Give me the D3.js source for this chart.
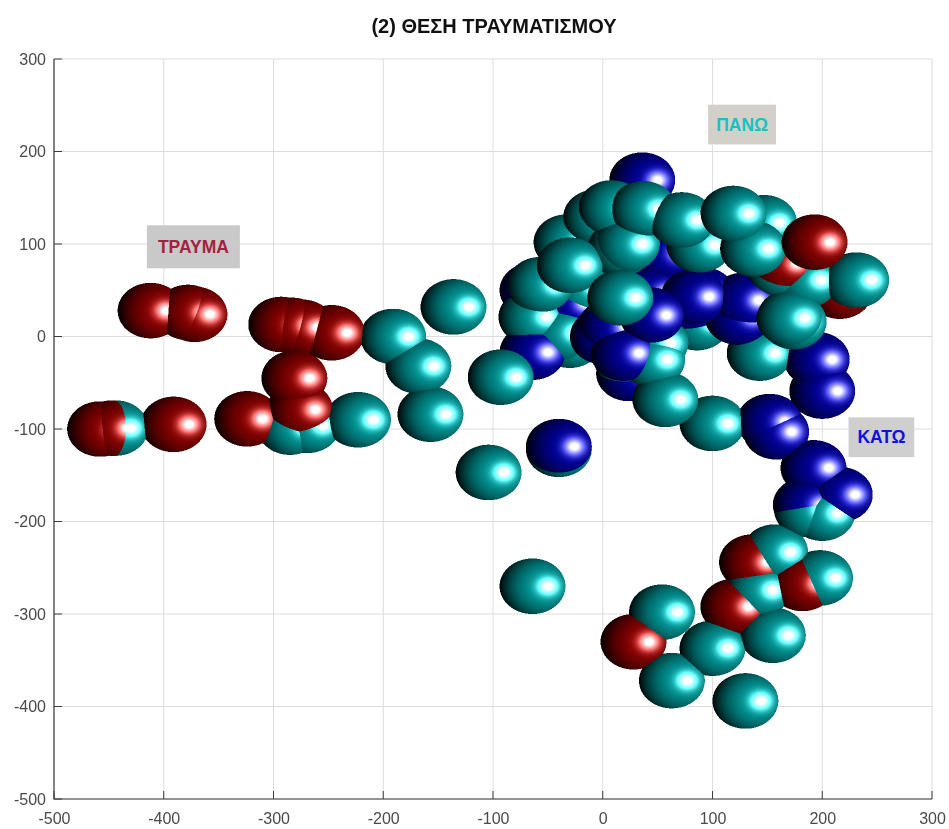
<!DOCTYPE html>
<html>
<head>
<meta charset="utf-8">
<script src="https://cdn.jsdelivr.net/npm/d3@7"></script>
<style>
  html, body { margin: 0; padding: 0; background: #fff; }
  #chart { position: relative; width: 949px; height: 829px; filter: blur(0.6px); }
  #chart svg, #chart canvas { position: absolute; left: 0; top: 0; }
  text { font-family: "Liberation Sans", Arial, sans-serif; }
</style>
</head>
<body>
<div id="chart"></div>
<script>
const width = 949, height = 829;
const xTicks = [-500, -400, -300, -200, -100, 0, 100, 200, 300];
const yTicks = [-500, -400, -300, -200, -100, 0, 100, 200, 300];
const chartTitle = "(2) ΘΕΣΗ ΤΡΑΥΜΑΤΙΣΜΟΥ";
const labelTexts = ["ΤΡΑΥΜΑ", "ΠΑΝΩ", "ΚΑΤΩ"];
const labelX = [-373, 127, 254];
const labelY = [97, 229, -109];

const radius = 30;

// injuries, [x, y, z], z only sets who sits in front
const redPoints = [
  [-412, 28, 0], [-372, 24, 0], [-378, 26, 1],
  [-293, 13, 0], [-283, 12, 1], [-274, 10, 0], [-247, 4, 0],
  [-281, -45, 12], [-276, -79, 4], [-324, -89, 0],
  [-391, -95, 0], [-458, -100, 0], [-447, -99, 1.2],
  [193, 102, 110], [163, 79, 50], [216, 49, 0],
  [136, -244, 0], [182, -267, 0], [119, -292, 0], [28, -330, 0]
];
const tealPoints = [
  [-444, -99, 0], [-285, -98, -6], [-269, -96, -6], [-223, -90, 0],
  [-191, 0, 0], [-168, -32, 0], [-157, -84, 0], [-136, 32, 0],
  [-104, -147, 0], [-40, -122, -3], [-64, -270, 0],
  [8, 139, 50], [37, 138, 70], [-6, 129, 30], [-33, 102, 10], [-30, 77, 60],
  [17, 97, 50], [22, 100, 56], [16, 95, 40],
  [72, 126, 80], [88, 99, 50], [119, 133, 100], [147, 123, 40], [137, 95, 80],
  [161, 74, 45], [185, 61, 40], [231, 61, 45], [170, 20, 50], [174, 16, 40],
  [143, -18, 0], [57, -68, 40], [100, -94, 0], [-93, -44, 40],
  [-57, 56, 30], [-65, 21, 10], [-39, 4, 5], [-30, -4, -10],
  [16, 42, 90], [-20, 53, 5], [45, -25, 40], [48, -7, 35], [22, -25, 0], [86, 15, -10],
  [200, -191, 0], [186, -187, 0], [157, -233, 0], [198, -261, 0], [141, -274, 0],
  [155, -323, 0], [100, -337, 0], [54, -298, 0], [63, -372, 0], [130, -394, 0]
];
const bluePoints = [
  [36, 169, 0], [-40, -119, 3], [195, -25, 0], [200, -59, 0], [152, -92, 0], [158, -103, 0],
  [-64, -17, 10], [-64, 50, 0], [7, 10, 40], [44, 23, 60], [19, -18, 50], [0, 0, 30],
  [24, -40, -10], [83, 43, 40], [91, 45, 25], [123, 21, 20], [128, 39, 30], [43, 47, 10],
  [55, 90, 10], [82, 32, 0], [-30, 36, 0],
  [192, -142, 0], [216, -171, 0], [185, -182, 0]
];

const colors = {
  red: [150, 0, 0],
  teal: [0, 160, 160],
  blue: [0, 0, 170]
};

const x = d3.scaleLinear().domain([-500, 300]).range([54, 932]);
const y = d3.scaleLinear().domain([-500, 300]).range([799, 59]);

const container = d3.select("#chart");
const svg = container.append("svg").attr("width", width).attr("height", height);

// grid
svg.append("g").selectAll("line").data(xTicks).join("line")
  .attr("x1", d => x(d)).attr("x2", d => x(d))
  .attr("y1", y(300)).attr("y2", y(-500))
  .attr("stroke", "#dcdcdc").attr("stroke-width", 1);
svg.append("g").selectAll("line").data(yTicks).join("line")
  .attr("x1", x(-500)).attr("x2", x(300))
  .attr("y1", d => y(d)).attr("y2", d => y(d))
  .attr("stroke", "#dcdcdc").attr("stroke-width", 1);

// spheres go on a canvas so they can cut into each other like the 3d ones do
const scale = 2;
const canvas = container.append("canvas")
  .attr("width", width * scale).attr("height", height * scale)
  .style("width", width + "px").style("height", height + "px");
const ctx = canvas.node().getContext("2d");
const img = ctx.createImageData(width * scale, height * scale);
const depth = new Float32Array(width * scale * height * scale).fill(-1e9);

const highlightX = 0.47;

function drawSphere(p, color) {
  const cx = x(p[0]) * scale, cy = y(p[1]) * scale;
  const rx = Math.abs(x(radius) - x(0)) * scale;
  const ry = Math.abs(y(radius) - y(0)) * scale;
  const w = width * scale;
  for (let py = Math.floor(cy - ry); py <= cy + ry; py++) {
    for (let px = Math.floor(cx - rx); px <= cx + rx; px++) {
      const nx = (px + 0.5 - cx) / rx, ny = (py + 0.5 - cy) / ry;
      const rr = nx * nx + ny * ny;
      if (rr > 1) continue;
      const nz = Math.sqrt(1 - rr);
      const zz = p[2] + radius * nz;
      const i = py * w + px;
      if (zz <= depth[i]) continue;
      depth[i] = zz;
      // shade by distance from the highlight, it looks rounder than real phong here
      const dx = nx - highlightX;
      const d2 = dx * dx + ny * ny;
      const d = Math.sqrt(d2);
      const diff = (1 - Math.pow(d / 1.5, 2.2)) * (0.78 + 0.22 * Math.sqrt(nz));
      const spec = Math.min(1, 1.15 * Math.exp(-d2 / (2 * 0.21 * 0.21)));
      const k = i * 4;
      img.data[k] = Math.min(255, color[0] * diff + 255 * spec);
      img.data[k + 1] = Math.min(255, color[1] * diff + 255 * spec);
      img.data[k + 2] = Math.min(255, color[2] * diff + 255 * spec);
      img.data[k + 3] = 255;
    }
  }
}
redPoints.forEach(p => drawSphere(p, colors.red));
tealPoints.forEach(p => drawSphere(p, colors.teal));
bluePoints.forEach(p => drawSphere(p, colors.blue));
ctx.putImageData(img, 0, 0);

// axes and text on top
const overlay = container.append("svg").attr("width", width).attr("height", height);
const axisColor = "#3c3c3c";
const textColor = "#4a4a4a";

const xAxis = d3.axisBottom(x).tickValues(xTicks).tickSize(0).tickPadding(14).tickFormat(d => d);
const yAxis = d3.axisLeft(y).tickValues(yTicks).tickSize(0).tickPadding(8).tickFormat(d => d);
overlay.append("g").attr("transform", `translate(0,${y(-500)})`).call(xAxis)
  .call(g => g.select(".domain").remove())
  .selectAll("text").attr("font-size", 16).attr("fill", textColor).style("font-family", '"Liberation Sans", Arial, sans-serif');
overlay.append("g").attr("transform", `translate(${x(-500)},0)`).call(yAxis)
  .call(g => g.select(".domain").remove())
  .selectAll("text").attr("font-size", 16).attr("fill", textColor).style("font-family", '"Liberation Sans", Arial, sans-serif');

// only left and bottom lines, ticks point inward
overlay.append("path")
  .attr("d", `M${x(-500)},${y(300)}V${y(-500)}H${x(300)}`)
  .attr("fill", "none").attr("stroke", axisColor).attr("stroke-width", 1.2);

const tickLen = 8;
overlay.append("g").selectAll("line").data(xTicks).join("line")
  .attr("x1", d => x(d)).attr("x2", d => x(d))
  .attr("y1", y(-500)).attr("y2", y(-500) - tickLen)
  .attr("stroke", axisColor);
overlay.append("g").selectAll("line").data(yTicks).join("line")
  .attr("x1", x(-500)).attr("x2", x(-500) + tickLen)
  .attr("y1", d => y(d)).attr("y2", d => y(d))
  .attr("stroke", axisColor);

overlay.append("text")
  .attr("x", 494).attr("y", 33)
  .attr("text-anchor", "middle")
  .attr("font-size", 20).attr("font-weight", "bold").attr("fill", "#111")
  .text(chartTitle);

// the three grey tag labels
const labelFill = ["#a5213f", "#12c4c4", "#1010e0"];
const labelBg = ["#c9c9c9", "#d3d0c9", "#cfcfcf"];
const labelW = [93, 68, 66];
const labelH = [43, 40, 40];
const labels = overlay.append("g").selectAll("g").data(labelTexts).join("g")
  .attr("transform", (d, i) => `translate(${x(labelX[i])},${y(labelY[i])})`);
labels.append("rect")
  .attr("x", (d, i) => -labelW[i] / 2).attr("y", (d, i) => -labelH[i] / 2)
  .attr("width", (d, i) => labelW[i]).attr("height", (d, i) => labelH[i])
  .attr("fill", (d, i) => labelBg[i]);
labels.append("text")
  .attr("text-anchor", "middle").attr("dy", 6)
  .attr("font-size", 17.5).attr("font-weight", "bold")
  .attr("fill", (d, i) => labelFill[i])
  .text(d => d);
</script>
</body>
</html>
